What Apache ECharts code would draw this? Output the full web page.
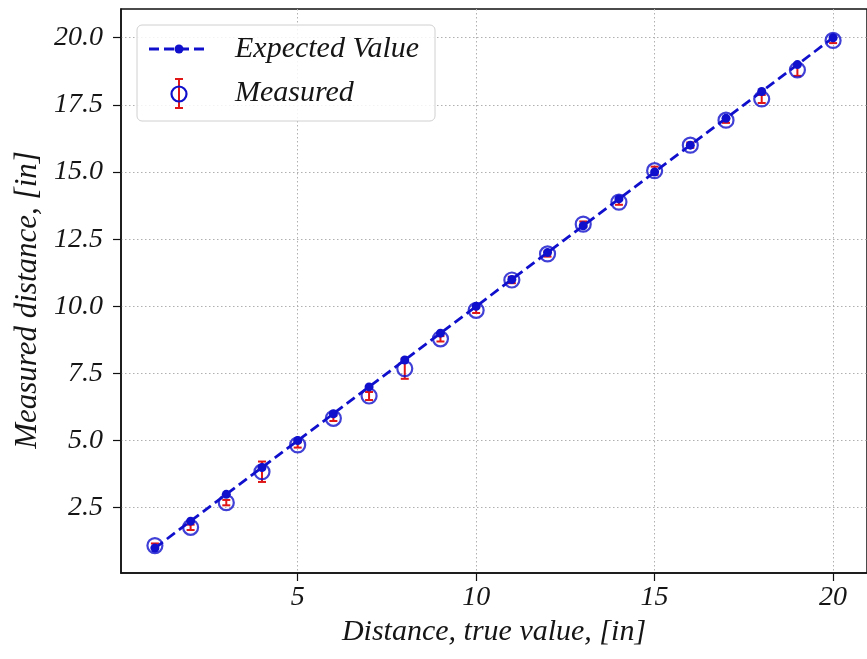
<!DOCTYPE html>
<html><head><meta charset="utf-8">
<script src="https://cdn.jsdelivr.net/npm/echarts@6/dist/echarts.min.js"></script>
<style>html,body{margin:0;padding:0;background:#fff}#c{width:867px;height:659px}</style>
</head><body><div id="c"></div>
<script>
const trueDist = [1,2,3,4,5,6,7,8,9,10,11,12,13,14,15,16,17,18,19,20];
const expected = [1,2,3,4,5,6,7,8,9,10,11,12,13,14,15,16,17,18,19,20];
const measured = [1.09,1.77,2.69,3.84,4.84,5.83,6.66,7.68,8.79,9.85,10.98,11.95,13.06,13.88,15.05,16.0,16.93,17.72,18.8,19.9];
const errors = [0.08,0.1,0.1,0.38,0.1,0.1,0.15,0.38,0.1,0.1,0.12,0.1,0.1,0.1,0.15,0.1,0.1,0.15,0.22,0.1];
const xTicks = [5,10,15,20];
const yTicks = [2.5,5,7.5,10,12.5,15,17.5,20];

const BLUE = '#1010cc', RED = '#e01515';
const FONT = 'Liberation Serif';
const chart = echarts.init(document.getElementById('c'));
const lbl = {fontFamily: FONT, fontStyle: 'italic', fontSize: 28, color: '#151515'};
chart.setOption({
  animation: false,
  grid: {left: 121, top: 9, right: -6, bottom: 86, show: true, borderColor: '#111', borderWidth: 1.5, backgroundColor: 'transparent'},
  xAxis: {
    type: 'value', min: 0.05, max: 20.95,
    name: 'Distance, true value, [in]', nameLocation: 'middle', nameGap: 39,
    nameTextStyle: Object.assign({}, lbl, {fontSize: 30, padding: [0, 0, 0, 0]}),
    axisLine: {show: true, lineStyle: {color: '#111', width: 1.5}},
    axisTick: {show: true, length: 8, customValues: xTicks, lineStyle: {color: '#111', width: 1.2}},
    axisLabel: Object.assign({customValues: xTicks, margin: 11, formatter: v => String(v)}, lbl),
    splitLine: {show: true, lineStyle: {color: '#b0b0b0', type: [1.5, 2.5], width: 1}}
  },
  yAxis: {
    type: 'value', min: 0.07, max: 21.07,
    name: 'Measured distance, [in]', nameLocation: 'middle', nameGap: 76,
    nameTextStyle: Object.assign({}, lbl, {fontSize: 31, padding: [0, 18, 0, 0]}),
    axisLine: {show: true, lineStyle: {color: '#111', width: 1.5}},
    axisTick: {show: true, length: 8, customValues: yTicks, lineStyle: {color: '#111', width: 1.2}},
    axisLabel: Object.assign({customValues: yTicks, margin: 18, formatter: v => v.toFixed(1)}, lbl),
    splitLine: {show: true, lineStyle: {color: '#b0b0b0', type: [1.5, 2.5], width: 1}}
  },
  series: [
    {
      name: 'Measured err', type: 'custom', z: 2,
      data: trueDist.map((x, i) => [x, measured[i], errors[i]]),
      renderItem: function (params, api) {
        const x = api.value(0), y = api.value(1), e = api.value(2);
        const lo = api.coord([x, y - e]), hi = api.coord([x, y + e]);
        const c = 4;
        const st = {stroke: RED, lineWidth: 2};
        return {type: 'group', children: [
          {type: 'line', shape: {x1: lo[0], y1: lo[1], x2: hi[0], y2: hi[1]}, style: st},
          {type: 'line', shape: {x1: lo[0] - c, y1: lo[1], x2: lo[0] + c, y2: lo[1]}, style: st},
          {type: 'line', shape: {x1: hi[0] - c, y1: hi[1], x2: hi[0] + c, y2: hi[1]}, style: st}
        ]};
      }
    },
    {
      name: 'Measured', type: 'scatter', z: 3,
      data: trueDist.map((x, i) => [x, measured[i]]),
      symbol: 'circle', symbolSize: 15,
      itemStyle: {color: 'rgba(0,0,0,0)', borderColor: BLUE, borderWidth: 2.2}
    },
    {
      name: 'Expected Value', type: 'line', z: 4,
      data: trueDist.map((x, i) => [x, expected[i]]),
      symbol: 'circle', symbolSize: 9, showSymbol: true,
      lineStyle: {color: BLUE, width: 2.8, type: [10, 5]},
      itemStyle: {color: BLUE, borderWidth: 0}
    }
  ],
  graphic: [
    {type: 'rect', shape: {x: 137, y: 25, width: 298, height: 96, r: 5}, style: {fill: 'rgba(255,255,255,0.85)', stroke: '#d0d0d0', lineWidth: 1}, z: 10},
    {type: 'line', shape: {x1: 149, y1: 49, x2: 208, y2: 49}, style: {stroke: BLUE, lineWidth: 2.8, lineDash: [10, 5]}, z: 11},
    {type: 'circle', shape: {cx: 179, cy: 49, r: 4.5}, style: {fill: BLUE}, z: 11},
    {type: 'text', x: 235, y: 49, style: {text: 'Expected Value', fontFamily: FONT, fontStyle: 'italic', fontSize: 30, fill: '#151515', verticalAlign: 'middle'}, z: 11},
    {type: 'line', shape: {x1: 179, y1: 79, x2: 179, y2: 108}, style: {stroke: RED, lineWidth: 2}, z: 11},
    {type: 'line', shape: {x1: 175, y1: 79, x2: 183, y2: 79}, style: {stroke: RED, lineWidth: 2}, z: 11},
    {type: 'line', shape: {x1: 175, y1: 108, x2: 183, y2: 108}, style: {stroke: RED, lineWidth: 2}, z: 11},
    {type: 'circle', shape: {cx: 179, cy: 94, r: 7.5}, style: {fill: 'none', stroke: BLUE, lineWidth: 2.2}, z: 12},
    {type: 'text', x: 235, y: 93, style: {text: 'Measured', fontFamily: FONT, fontStyle: 'italic', fontSize: 30, fill: '#151515', verticalAlign: 'middle'}, z: 11}
  ]
});
</script></body></html>
